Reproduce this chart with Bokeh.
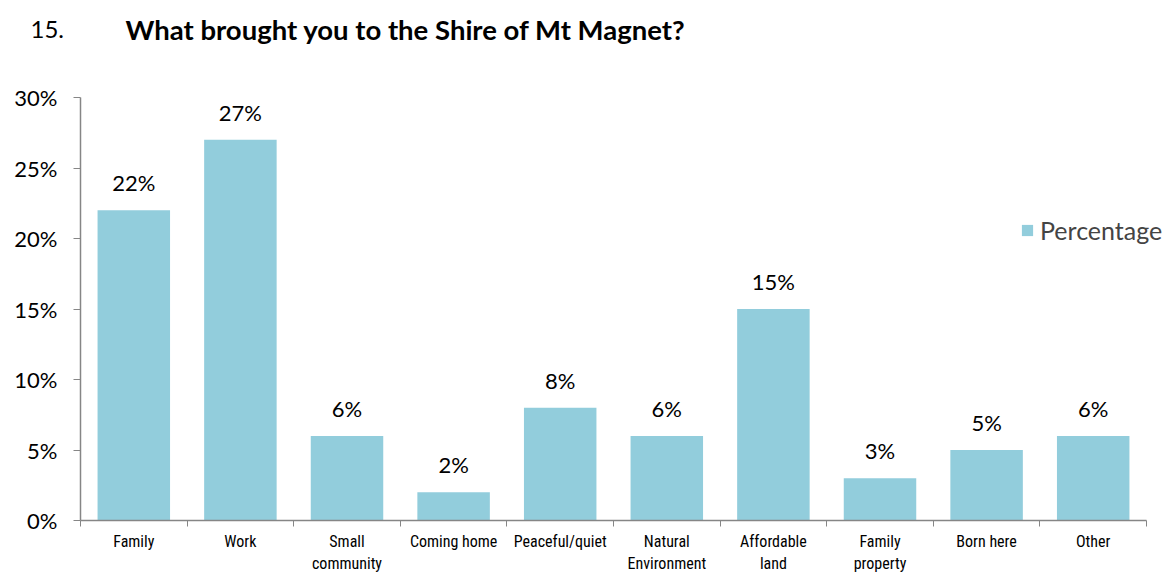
from bokeh.plotting import figure
from bokeh.models import Range1d, FixedTicker, PrintfTickFormatter, Title, Legend, LegendItem, ColumnDataSource
from bokeh.core.properties import value
from bokeh.embed import file_html
from bokeh.resources import INLINE

categories = ["Family", "Work", "Small\ncommunity", "Coming home", "Peaceful/quiet",
              "Natural\nEnvironment", "Affordable\nland", "Family\nproperty", "Born here", "Other"]
values = [22, 27, 6, 2, 8, 6, 15, 3, 5, 6]
y_ticks = [0, 5, 10, 15, 20, 25, 30]
series_name = "Percentage"
title_num = "15."
title_text = "What brought you to the Shire of Mt Magnet?"

n = len(categories)
xs = [i + 0.5 for i in range(n)]
src = ColumnDataSource(dict(x=xs, top=values, lab=[f"{v}%" for v in values]))

BAR = "#92CDDC"
AX = "#868686"
FONT = "Lato"
NARROW = "Liberation Sans Narrow, Roboto Condensed, Arial Narrow, sans-serif"

# frame spans to the right edge so the legend is not clipped; axis limited by bounds
x_end = n * (1166 - 80) / (1146 - 80)

p = figure(width=1166, height=577, output_backend="svg", toolbar_location=None,
           x_range=Range1d(0, x_end), y_range=Range1d(0, 30),
           min_border_left=80, min_border_right=0, min_border_top=97, min_border_bottom=57)
p.outline_line_color = None
p.xgrid.grid_line_color = None
p.ygrid.grid_line_color = None

r = p.vbar(x="x", top="top", width=0.68, bottom=0, source=src, fill_color=BAR, line_color=None)
p.text(x="x", y="top", text="lab", source=src, text_align="center", text_baseline="bottom",
       y_offset=-14, text_font=value(FONT), text_font_size="22px", text_color="black")

# y axis
p.yaxis.ticker = FixedTicker(ticks=y_ticks)
p.yaxis.formatter = PrintfTickFormatter(format="%d%%")
p.yaxis.axis_line_color = AX
p.yaxis.major_tick_line_color = AX
p.yaxis.major_tick_out = 7
p.yaxis.major_tick_in = 0
p.yaxis.minor_tick_line_color = None
p.yaxis.major_label_text_font = FONT
p.yaxis.major_label_text_font_size = "22px"
p.yaxis.major_label_text_color = "black"
p.yaxis.major_label_standoff = 16
p.yaxis.axis_line_width = 1.5

# x axis
p.xaxis.bounds = (0, n)
p.xaxis.ticker = FixedTicker(ticks=xs, minor_ticks=list(range(n + 1)))
p.xaxis.major_label_overrides = {x: c for x, c in zip(xs, categories)}
p.xaxis.axis_line_color = AX
p.xaxis.axis_line_width = 1.5
p.xaxis.major_tick_line_color = None
p.xaxis.minor_tick_line_color = AX
p.xaxis.minor_tick_out = 6
p.xaxis.minor_tick_in = 0
p.xaxis.major_label_text_font = NARROW
p.xaxis.major_label_text_font_size = "16px"
p.xaxis.major_label_text_color = "black"
p.xaxis.major_label_standoff = 5

legend = Legend(items=[LegendItem(label=series_name, renderers=[r])], location=(940, 275),
                border_line_color=None, background_fill_alpha=0, padding=0, margin=0,
                glyph_width=14, glyph_height=14, label_text_font=FONT,
                label_text_font_size="25px", label_standoff=6)
p.add_layout(legend, "center")

# title row: a tiny spacer title next to the frame, the bold title above it,
# and the question number pulled down onto the same row
spacer = Title(text=" ", standoff=49, text_font=FONT, text_font_size="1px")
t1 = Title(text=title_text, align="left", offset=45, standoff=0, text_font=FONT,
           text_font_size="27.5px", text_font_style="bold", text_color="black")
t2 = Title(text=title_num, align="left", offset=-50, standoff=-54, text_font=FONT,
           text_font_size="24px", text_font_style="normal", text_color="black")
p.add_layout(spacer, "above")
p.add_layout(t1, "above")
p.add_layout(t2, "above")

open("out.html", "w").write(file_html(p, INLINE))
